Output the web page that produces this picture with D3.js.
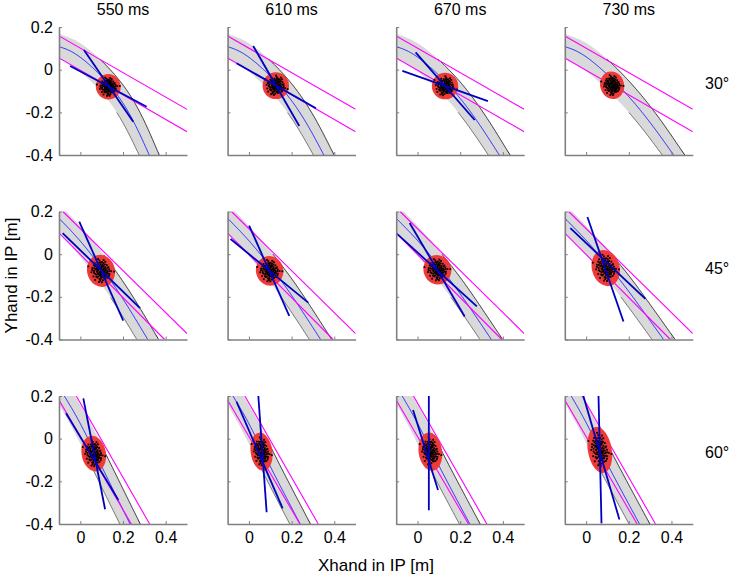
<!DOCTYPE html>
<html><head><meta charset="utf-8">
<script src="https://cdn.jsdelivr.net/npm/d3@7"></script>
<style>body{margin:0;background:#fff}svg{display:block}text{font-family:"Liberation Sans",Arial,Helvetica,sans-serif;fill:#000}</style>
</head><body><svg id="c" width="732" height="578"></svg>
<script>
// ---------------- data ----------------
const times = ["550 ms", "610 ms", "670 ms", "730 ms"];
const angles = ["30°", "45°", "60°"];
const xTicks = [0, 0.2, 0.4];
const yTicks = [0.2, 0, -0.2, -0.4];
const xDomain = [-0.1, 0.5];
const yDomain = [-0.4, 0.2];
const xLabel = "Xhand in IP [m]";
const yLabel = "Yhand in IP [m]";

// two magenta lines per row (angle)
const magentaLines = [
  [[[-0.1, 0.158], [0.5, -0.186]], [[-0.1, 0.055], [0.5, -0.291]]],
  [[[-0.082, 0.2], [0.5, -0.372]], [[-0.1, 0.099], [0.395, -0.4]]],
  [[[-0.019, 0.2], [0.325, -0.4]], [[-0.1, 0.181], [0.239, -0.4]]]
];

// band centre line per panel (row-major: row*4+col)
const bandCenter = [
  [[-0.1, 0.108], [0.0, 0.058], [0.143, -0.080], [0.245, -0.235], [0.323, -0.4]],
  [[-0.1, 0.108], [0.0, 0.058], [0.145, -0.078], [0.260, -0.235], [0.351, -0.4]],
  [[-0.1, 0.108], [0.0, 0.059], [0.148, -0.075], [0.275, -0.235], [0.383, -0.4]],
  [[-0.1, 0.108], [0.0, 0.060], [0.150, -0.073], [0.290, -0.235], [0.410, -0.4]],
  [[-0.1, 0.168], [0.0, 0.061], [0.1, -0.066], [0.2, -0.210], [0.316, -0.4]],
  [[-0.1, 0.168], [0.0, 0.063], [0.1, -0.058], [0.2, -0.193], [0.336, -0.4]],
  [[-0.1, 0.168], [0.0, 0.064], [0.1, -0.055], [0.2, -0.186], [0.346, -0.4]],
  [[-0.1, 0.168], [0.0, 0.065], [0.1, -0.050], [0.2, -0.175], [0.363, -0.4]],
  [[-0.075, 0.2], [0.0, 0.070], [0.1, -0.130], [0.233, -0.4]],
  [[-0.075, 0.2], [0.0, 0.070], [0.1, -0.130], [0.240, -0.4]],
  [[-0.072, 0.2], [0.0, 0.072], [0.1, -0.126], [0.245, -0.4]],
  [[-0.070, 0.2], [0.0, 0.075], [0.1, -0.120], [0.250, -0.4]]
];
// band half width per row: [at top, at bottom]
const bandHalfWidth = [[0.056, 0.043], [0.047, 0.044], [0.043, 0.043]];
// dark edge lines are visible below these heights, per row: [outer, inner]
const edgeFrom = [[0.05, -0.2], [0.0, -0.2], [-0.01, -0.15]];

// ellipse per panel: [cx, cy, rx, ry, angleDeg]
const ellipses = [
  [0.131, -0.080, 0.058, 0.060, -20],
  [0.126, -0.075, 0.062, 0.063, 0],
  [0.129, -0.077, 0.062, 0.062, 0],
  [0.122, -0.073, 0.056, 0.065, -15],
  [0.097, -0.078, 0.065, 0.076, -15],
  [0.097, -0.078, 0.064, 0.070, -15],
  [0.093, -0.073, 0.065, 0.070, -20],
  [0.092, -0.065, 0.065, 0.086, -15],
  [0.063, -0.070, 0.057, 0.084, -10],
  [0.059, -0.061, 0.051, 0.090, -8],
  [0.060, -0.061, 0.055, 0.090, -8],
  [0.064, -0.053, 0.056, 0.109, -10]
];

// thick blue segments per panel
const blueLines = [
  [[[-0.048, 0.017], [0.311, -0.174]], [[0.017, 0.092], [0.248, -0.244]]],
  [[[0.02, 0.111], [0.236, -0.264]], [[-0.058, 0.03], [0.314, -0.181]]],
  [[[-0.071, -0.006], [0.33, -0.147]], [[-0.009, 0.081], [0.268, -0.236]]],
  [],
  [[[-0.005, 0.153], [0.201, -0.311]], [[-0.083, 0.099], [0.28, -0.253]]],
  [[[0.001, 0.134], [0.189, -0.289]], [[-0.086, 0.071], [0.278, -0.227]]],
  [[[-0.037, 0.146], [0.221, -0.292]], [[-0.1, 0.099], [0.278, -0.245]]],
  [[[0.006, 0.174], [0.175, -0.316]], [[-0.074, 0.122], [0.278, -0.21]]],
  [[[0.014, 0.189], [0.116, -0.331]], [[-0.067, 0.119], [0.178, -0.287]]],
  [[[0.044, 0.2], [0.083, -0.345]], [[-0.058, 0.173], [0.158, -0.327]]],
  [[[0.053, 0.2], [0.053, -0.336]], [[-0.021, 0.134], [0.096, -0.241]]],
  [[[0.058, 0.2], [0.072, -0.397]], [[-0.013, 0.2], [0.156, -0.379]]]
];

// hand-placed scatter offsets, in units of the ellipse radii
const dotOffsets = [
  [0.05,0.1],[-0.2,0.3],[0.3,-0.1],[-0.4,-0.2],[0.15,0.45],[-0.1,-0.5],[0.5,0.2],[-0.55,0.1],
  [0.25,-0.4],[-0.3,0.55],[0.6,-0.3],[-0.05,0.7],[0.1,-0.75],[-0.65,-0.35],[0.4,0.6],[-0.35,-0.65],
  [0.7,0.05],[-0.75,0.25],[0.2,0.2],[-0.15,-0.15],[0.35,0.35],[-0.45,0.4],[0.55,-0.55],[-0.25,-0.35],
  [0.0,0.0],[0.12,-0.22],[-0.32,0.12],[0.42,-0.18],[-0.08,0.42],[0.28,0.12],[-0.22,-0.08],[0.18,-0.58],
  [-0.58,-0.12],[0.62,0.38],[-0.12,0.22],[0.08,0.32],[-0.38,-0.42],[0.48,0.08],[-0.02,-0.28],[0.32,-0.32],
  [-0.52,0.32],[0.22,0.62],[-0.28,0.68],[0.68,-0.12],[-0.68,0.52],[0.02,-0.88],[-0.18,0.82],[0.82,0.22],
  [-0.82,-0.08],[0.45,-0.7],[-0.42,0.75],[0.15,0.05],[-0.05,0.15],[0.25,-0.25],[-0.15,0.45],[0.38,0.22],
  [-0.3,-0.25],[0.1,-0.45],[-0.48,-0.52],[0.55,0.5],[1.05,0.3],[-0.95,-0.55],[0.06,-0.12],[-0.1,0.05],
  [0.2,-0.05],[-0.26,0.2],[0.34,0.05],[-0.04,-0.4],[0.14,0.6],[-0.36,-0.05],
  [0.09,0.18],[-0.18,0.08],[0.24,0.3],[-0.06,-0.2],[0.16,-0.32],[-0.28,-0.48],[0.44,-0.38],[-0.44,0.18],
  [0.3,0.46],[-0.2,0.58],[0.04,0.52],[-0.12,-0.62],[0.26,-0.6],[0.58,-0.08],[-0.62,0.02],[0.5,0.34],
  [-0.36,0.36],[0.12,0.1],[-0.02,0.26],[0.36,-0.5],[-0.5,-0.3],[0.2,0.42],[-0.24,-0.18],[0.06,-0.6],
  [0.66,0.18],[-0.7,-0.22],[0.4,-0.04],[-0.14,0.34],[0.02,-0.14],[-0.34,0.0]
];

// ---------------- layout ----------------
const size = 128;
const colLeft = c => 59 + c * 168.6;
const rowTop = r => 27 + r * 184.5;
const svg = d3.select("#c");
const defs = svg.append("defs");

const C = {
  axis: "#808080", band: "#d9d9d9", edgeOuter: "#1a1a1a", edgeInner: "#4d4d4d",
  center: "#2424ff", magenta: "#ff00ff", ellipse: "#ef3a3a", thick: "#0000c0"
};

const fmt = d => String(+d.toFixed(1));
const tan = (a, b) => { const dx = b[0] - a[0], dy = b[1] - a[1], l = Math.hypot(dx, dy) || 1; return [dx / l, dy / l]; };

for (let r = 0; r < 3; r++) {
  for (let c = 0; c < 4; c++) {
    const idx = r * 4 + c;
    const L = colLeft(c), T = rowTop(r);
    const x = d3.scaleLinear().domain(xDomain).range([L, L + size]);
    const y = d3.scaleLinear().domain(yDomain).range([T + size, T]);
    const k = x(1) - x(0);
    const cid = `clip${idx}`;
    defs.append("clipPath").attr("id", cid).append("rect")
      .attr("x", L).attr("y", T).attr("width", size).attr("height", size);
    const g = svg.append("g").attr("clip-path", `url(#${cid})`);

    // band: sample centre curve, offset on both sides
    const line = d3.line().x(d => x(d[0])).y(d => y(d[1])).curve(d3.curveNatural);
    const tmp = svg.append("path").attr("d", line(bandCenter[idx])).attr("fill", "none").attr("stroke", "none");
    const node = tmp.node();
    const len = node.getTotalLength();
    const N = 160;
    const pts = [];
    for (let i = 0; i <= N; i++) { const p = node.getPointAtLength(len * i / N); pts.push([p.x, p.y]); }
    tmp.remove();
    const t0 = tan(pts[0], pts[1]), tN = tan(pts[N - 1], pts[N]);
    const ext = 60;
    const all = [[pts[0][0] - t0[0] * ext, pts[0][1] - t0[1] * ext]].concat(pts,
      [[pts[N][0] + tN[0] * ext, pts[N][1] + tN[1] * ext]]);
    const [w0, w1] = bandHalfWidth[r];
    const outer = [], inner = [];
    all.forEach((p, i) => {
      const a = all[Math.max(0, i - 1)], b = all[Math.min(all.length - 1, i + 1)];
      const t = tan(a, b);
      const n = [t[1], -t[0]];
      const f = Math.max(0, Math.min(1, (i - 1) / N));
      const w = (w0 + (w1 - w0) * f) * k;
      outer.push([p[0] + n[0] * w, p[1] + n[1] * w]);
      inner.push([p[0] - n[0] * w, p[1] - n[1] * w]);
    });
    const pl = d3.line();
    g.append("path").attr("d", pl(outer.concat(inner.slice().reverse())) + "Z").attr("fill", C.band).attr("stroke", "none");
    const [oFrom, iFrom] = edgeFrom[r];
    g.append("path").attr("d", pl(inner.filter(p => y.invert(p[1]) < iFrom)))
      .attr("fill", "none").attr("stroke", C.edgeInner).attr("stroke-width", 0.8);
    g.append("path").attr("d", pl(outer.filter(p => y.invert(p[1]) < oFrom)))
      .attr("fill", "none").attr("stroke", C.edgeOuter).attr("stroke-width", 0.9);
    g.append("path").attr("d", pl(all)).attr("fill", "none").attr("stroke", C.center).attr("stroke-width", 1);

    // magenta lines
    magentaLines[r].forEach(seg => {
      g.append("line").attr("x1", x(seg[0][0])).attr("y1", y(seg[0][1]))
        .attr("x2", x(seg[1][0])).attr("y2", y(seg[1][1]))
        .attr("stroke", C.magenta).attr("stroke-width", 1.1);
    });

    // ellipse
    const [ecx, ecy, erx, ery, ang] = ellipses[idx];
    const px = x(ecx), py = y(ecy);
    g.append("ellipse").attr("cx", px).attr("cy", py)
      .attr("rx", erx * k).attr("ry", ery * k)
      .attr("transform", `rotate(${ang},${px},${py})`)
      .attr("fill", C.ellipse);

    // dots
    const th = ang * Math.PI / 180;
    g.selectAll(null).data(dotOffsets).enter().append("rect")
      .each(function (d) {
        const lx = d[0] * erx * k * 0.85, ly = d[1] * ery * k * 0.85;
        const dx = lx * Math.cos(th) - ly * Math.sin(th);
        const dy = lx * Math.sin(th) + ly * Math.cos(th);
        d3.select(this).attr("x", px + dx - 0.9).attr("y", py + dy - 0.9);
      })
      .attr("width", 1.8).attr("height", 1.8).attr("fill", "#000");

    // thick blue lines
    blueLines[idx].forEach(seg => {
      g.append("line").attr("x1", x(seg[0][0])).attr("y1", y(seg[0][1]))
        .attr("x2", x(seg[1][0])).attr("y2", y(seg[1][1]))
        .attr("stroke", C.thick).attr("stroke-width", 1.8);
    });

    // axes
    const ax = svg.append("g").attr("transform", `translate(0,${T + size})`)
      .call(d3.axisBottom(x).tickValues(xTicks).tickSize(-3).tickSizeOuter(0).tickPadding(8)
        .tickFormat(r === 2 ? fmt : () => ""));
    const ay = svg.append("g").attr("transform", `translate(${L},0)`)
      .call(d3.axisLeft(y).tickValues(yTicks).tickSize(-3).tickSizeOuter(0).tickPadding(6)
        .tickFormat(c === 0 ? fmt : () => ""));
    [ax, ay].forEach(s => {
      s.select(".domain").attr("stroke", C.axis).attr("stroke-width", 1.6);
      s.selectAll(".tick line").attr("stroke", C.axis).attr("stroke-width", 1);
      s.selectAll("text").attr("font-size", 16).attr("font-family", "Liberation Sans, Arial, sans-serif").attr("fill", "#000");
    });
  }
}

// titles and labels
times.forEach((t, c) => {
  svg.append("text").attr("x", colLeft(c) + size / 2).attr("y", 15)
    .attr("text-anchor", "middle").attr("font-size", 16).text(t);
});
angles.forEach((t, r) => {
  svg.append("text").attr("x", 705).attr("y", rowTop(r) + 62)
    .attr("font-size", 16).text(t);
});
svg.append("text").attr("transform", `translate(11,${rowTop(1) + size / 2}) rotate(-90)`)
  .attr("text-anchor", "middle").attr("dy", "0.35em").attr("font-size", 17).text(yLabel);
svg.append("text").attr("x", (colLeft(1) + size + colLeft(2)) / 2).attr("y", 571)
  .attr("text-anchor", "middle").attr("font-size", 17).text(xLabel);
</script></body></html>
